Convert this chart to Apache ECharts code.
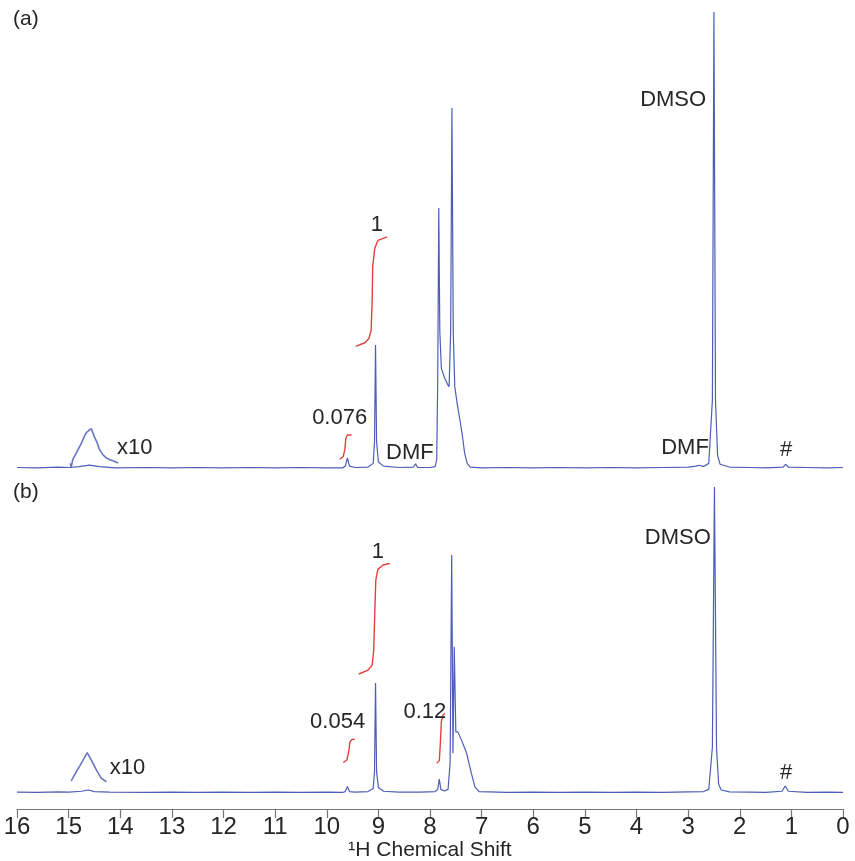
<!DOCTYPE html>
<html>
<head>
<meta charset="utf-8">
<script src="https://cdn.jsdelivr.net/npm/echarts@6/dist/echarts.min.js"></script>
<style>
html,body{margin:0;padding:0;background:#fff;}
#chart{width:855px;height:861px;}
</style>
</head>
<body>
<div id="chart"></div>
<script>
// ---- Data (ppm, relative intensity; DMSO peak = 1) ----
const xTicks = [16,15,14,13,12,11,10,9,8,7,6,5,4,3,2,1,0];

const spectrumA = [
  [16.0,0.003],[15.6,0.002],[15.2,0.004],[15.0,0.003],[14.8,0.005],[14.6,0.008],[14.4,0.005],[14.1,0.002],
  [13.5,0.003],[13.0,0.002],[12.5,0.003],[12.0,0.002],[11.5,0.003],[11.0,0.002],[10.5,0.003],[10.0,0.002],
  [9.7,0.002],[9.64,0.006],[9.6,0.024],[9.56,0.006],[9.45,0.003],[9.2,0.004],[9.1,0.012],[9.075,0.06],
  [9.055,0.271],[9.035,0.06],[9.0,0.015],[8.9,0.006],[8.6,0.003],[8.32,0.004],[8.28,0.011],[8.24,0.003],
  [8.0,0.003],[7.9,0.005],[7.87,0.02],[7.85,0.2],[7.83,0.571],[7.81,0.3],[7.78,0.22],[7.72,0.2],
  [7.66,0.185],[7.63,0.18],[7.6,0.3],[7.575,0.79],[7.55,0.3],[7.52,0.18],[7.47,0.14],[7.42,0.107],
  [7.37,0.07],[7.33,0.035],[7.28,0.012],[7.22,0.004],[7.0,0.002],[6.5,0.003],[6.0,0.002],[5.5,0.003],
  [5.0,0.002],[4.5,0.003],[4.0,0.002],[3.5,0.003],[3.0,0.004],[2.85,0.006],[2.78,0.008],[2.7,0.005],
  [2.6,0.012],[2.53,0.15],[2.5,1.0],[2.47,0.15],[2.43,0.03],[2.38,0.01],[2.2,0.004],[1.8,0.003],
  [1.5,0.002],[1.16,0.004],[1.11,0.01],[1.06,0.004],[0.7,0.003],[0.3,0.002],[0.0,0.003]
];

const spectrumB = [
  [16.0,0.003],[15.6,0.002],[15.2,0.004],[15.0,0.003],[14.75,0.006],[14.62,0.01],[14.5,0.005],[14.2,0.003],
  [13.5,0.002],[13.0,0.003],[12.5,0.002],[12.0,0.003],[11.5,0.002],[11.0,0.003],[10.5,0.002],[10.0,0.003],
  [9.7,0.002],[9.64,0.005],[9.6,0.022],[9.56,0.005],[9.45,0.003],[9.2,0.005],[9.1,0.015],[9.075,0.07],
  [9.055,0.36],[9.035,0.07],[9.0,0.018],[8.9,0.006],[8.6,0.003],[8.2,0.003],[7.9,0.005],[7.85,0.012],
  [7.82,0.046],[7.79,0.012],[7.72,0.007],[7.65,0.012],[7.61,0.1],[7.58,0.778],[7.555,0.13],[7.53,0.478],
  [7.5,0.2],[7.46,0.2],[7.39,0.173],[7.29,0.13],[7.2,0.065],[7.13,0.02],[7.05,0.005],[6.5,0.002],
  [6.0,0.003],[5.5,0.002],[5.0,0.003],[4.5,0.002],[4.0,0.003],[3.5,0.002],[3.0,0.004],[2.7,0.005],
  [2.6,0.012],[2.53,0.15],[2.49,1.0],[2.45,0.15],[2.41,0.03],[2.36,0.01],[2.2,0.004],[1.8,0.003],
  [1.5,0.002],[1.18,0.006],[1.12,0.023],[1.06,0.006],[0.7,0.002],[0.3,0.003],[0.0,0.002]
];

// x10 expanded regions
const expandA = [
  [14.97,0.012],[14.95,0.004],[14.92,0.02],[14.85,0.035],[14.75,0.057],[14.7,0.07],[14.66,0.079],
  [14.6,0.085],[14.56,0.088],[14.5,0.07],[14.45,0.058],[14.4,0.042],[14.33,0.03],[14.27,0.024],
  [14.2,0.02],[14.14,0.0175],[14.04,0.013]
];
const expandB = [
  [14.95,0.04],[14.85,0.07],[14.78,0.09],[14.72,0.108],[14.64,0.132],[14.56,0.108],[14.46,0.075],
  [14.37,0.049],[14.27,0.037]
];

// integral curves
const integA1 = [[9.44,0.268],[9.26,0.276],[9.18,0.286],[9.14,0.304],[9.12,0.37],[9.11,0.443],[9.07,0.483],[9.01,0.5],[8.83,0.508]];
const integA2 = [[9.75,0.021],[9.68,0.027],[9.65,0.042],[9.63,0.067],[9.6,0.074],[9.52,0.074]];
const integB1 = [[9.38,0.389],[9.2,0.402],[9.12,0.418],[9.09,0.467],[9.07,0.587],[9.05,0.696],[9.01,0.731],[8.91,0.745],[8.78,0.75]];
const integB2 = [[9.68,0.1],[9.61,0.108],[9.57,0.14],[9.55,0.168],[9.51,0.175],[9.46,0.176]];
const integB3 = [[7.87,0.097],[7.82,0.106],[7.8,0.162],[7.78,0.233],[7.75,0.255],[7.71,0.26]];

// annotation texts (anchored in data coordinates)
const labelsA = [
  ['DMSO',3.29,0.807],['1',9.03,0.534],['0.076',9.75,0.112],['DMF',8.39,0.035],
  ['DMF',3.06,0.046],['#',1.1,0.042],['x10',13.72,0.046]
];
const labelsB = [
  ['DMSO',3.2,0.833],['1',9.01,0.788],['0.054',9.79,0.232],['0.12',8.1,0.265],
  ['#',1.1,0.065],['x10',13.86,0.082]
];

// ---- Chart ----
const BLUE = '#4d5db8';
const RED = '#e4403a';
const TEXT = '#262626';
const FONT = '"Liberation Sans", Arial, sans-serif';

const chart = echarts.init(document.getElementById('chart'));

function lineSeries(data, idx, color, width, opacity) {
  return {
    type: 'line', xAxisIndex: idx, yAxisIndex: idx, data: data,
    showSymbol: false, symbol: 'none', smooth: false, silent: true,
    lineStyle: { color: color, width: width, opacity: opacity == null ? 1 : opacity },
    animation: false, z: 2
  };
}
function labelSeries(list, idx) {
  return {
    type: 'scatter', xAxisIndex: idx, yAxisIndex: idx, silent: true, animation: false,
    symbolSize: 0.1, itemStyle: { color: 'rgba(0,0,0,0)' },
    data: list.map(l => ({ value: [l[1], l[2]], name: l[0] })),
    label: {
      show: true, position: 'inside', formatter: '{b}',
      color: TEXT, fontSize: 22, fontFamily: FONT,
      textBorderWidth: 0, textBorderColor: 'transparent', opacity: 1
    }, z: 5
  };
}

const option = {
  backgroundColor: '#ffffff',
  animation: false,
  grid: [
    { left: 17, right: 12, top: 12, height: 466, containLabel: false, outerBoundsMode: 'none' },
    { left: 17, right: 12, top: 487, height: 322, containLabel: false, outerBoundsMode: 'none' }
  ],
  xAxis: [
    { type: 'value', gridIndex: 0, min: 0, max: 16, interval: 1, inverse: true, show: false },
    {
      type: 'value', gridIndex: 1, min: 0, max: 16, interval: 1, inverse: true,
      axisLine: { show: true, onZero: false, lineStyle: { color: '#777', width: 1.2 } },
      axisTick: { show: true, inside: false, length: 9, lineStyle: { color: '#777', width: 1.2 } },
      splitLine: { show: false },
      axisLabel: { color: TEXT, fontSize: 24, fontFamily: FONT, margin: 6,
        formatter: v => (xTicks.indexOf(v) >= 0 ? String(v) : '') },
      name: '\u00B9H Chemical Shift', nameLocation: 'middle', nameGap: 29,
      nameTextStyle: { color: TEXT, fontSize: 21, fontFamily: FONT }
    }
  ],
  yAxis: [
    { type: 'value', gridIndex: 0, min: -0.02, max: 1, show: false },
    { type: 'value', gridIndex: 1, min: -0.052, max: 1, show: false }
  ],
  graphic: [
    { type: 'text', left: 13, top: 9, style: { text: '(a)', fill: TEXT, font: '21px ' + FONT } },
    { type: 'text', left: 13, top: 482, style: { text: '(b)', fill: TEXT, font: '21px ' + FONT } }
  ],
  series: [
    lineSeries(spectrumA, 0, BLUE, 1.2),
    lineSeries(expandA, 0, BLUE, 1.6, 0.85),
    lineSeries(integA1, 0, RED, 1.4),
    lineSeries(integA2, 0, RED, 1.4),
    labelSeries(labelsA, 0),
    lineSeries(spectrumB, 1, BLUE, 1.2),
    lineSeries(expandB, 1, BLUE, 1.6, 0.85),
    lineSeries(integB1, 1, RED, 1.4),
    lineSeries(integB2, 1, RED, 1.4),
    lineSeries(integB3, 1, RED, 1.4),
    labelSeries(labelsB, 1)
  ]
};
chart.setOption(option);
</script>
</body>
</html>
